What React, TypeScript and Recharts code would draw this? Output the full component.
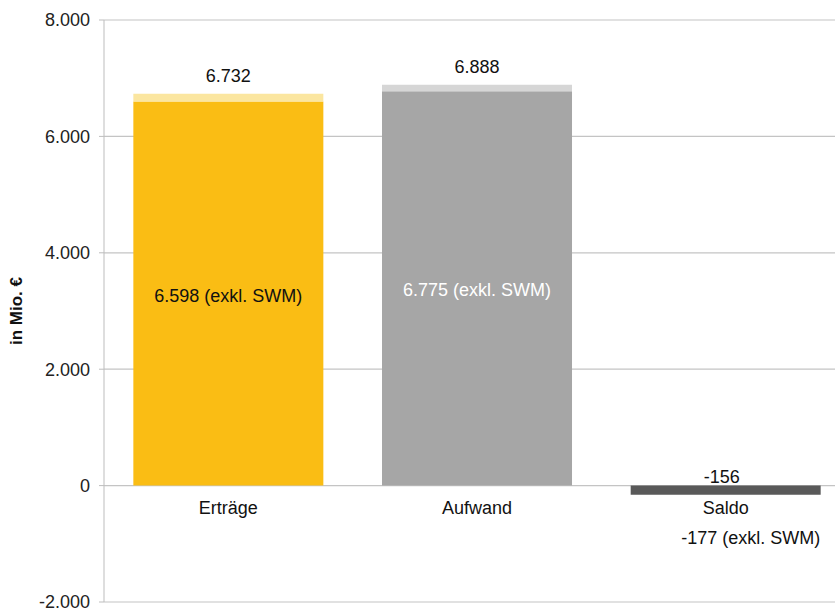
import { Bar, BarChart, CartesianGrid, Cell, LabelList, YAxis, XAxis } from "recharts";

const categories = ["Erträge", "Aufwand", "Saldo"];
// bar parts: value without SWM, plus the SWM share on top
const baseValues = [6598, 6775, -156];
const swmValues = [134, 113, 0];
const totalLabels = [6732, 6888, -156];
const exklLabels = [6598, 6775, -177];
const yTicks = [-2000, 0, 2000, 4000, 6000, 8000];

const baseColors = ["#FABD14", "#A6A6A6", "#595959"];
const swmColors = ["#FBE6A0", "#D6D6D6", "#595959"];
const innerTextColors = ["#111111", "#ffffff", "#111111"];

const data = categories.map((name, i) => ({
  name,
  base: baseValues[i],
  swm: swmValues[i],
  total: totalLabels[i],
  exkl: exklLabels[i],
}));

const FONT = "'Liberation Sans', Arial, sans-serif";

const fmt = (v: number) => {
  const s = Math.abs(v).toString().replace(/\B(?=(\d{3})+(?!\d))/g, ".");
  return v < 0 ? "-" + s : s;
};

function BaseLabel(props: any) {
  const { x, y, width, height, index } = props;
  const d = data[index];
  const top = Math.min(y, y + height);
  const bottom = Math.max(y, y + height);
  const cx = x + width / 2;
  const zeroY = d.base >= 0 ? bottom : top;
  const common = { fontFamily: FONT, fontSize: 18, textAnchor: "middle" as const, dominantBaseline: "central" as const };
  if (d.base >= 0) {
    return (
      <g>
        <text x={cx} y={(top + bottom) / 2 + 2} fill={innerTextColors[index]} {...common}>
          {fmt(d.exkl)} (exkl. SWM)
        </text>
        <text x={cx} y={zeroY + 22} fill="#111" {...common}>
          {d.name}
        </text>
      </g>
    );
  }
  return (
    <g>
      <text x={cx - 4} y={zeroY - 9} fill="#111" {...common}>
        {fmt(d.total)}
      </text>
      <text x={cx} y={zeroY + 22} fill="#111" {...common}>
        {d.name}
      </text>
      <text x={cx + 25} y={zeroY + 52} fill="#111" {...common}>
        {fmt(d.exkl)} (exkl. SWM)
      </text>
    </g>
  );
}

function TopLabel(props: any) {
  const { x, y, width, height, index } = props;
  const d = data[index];
  if (!(d.swm > 0)) return null;
  const top = Math.min(y, y + height);
  return (
    <text
      x={x + width / 2}
      y={top - 18}
      fill="#111"
      fontFamily={FONT}
      fontSize={18}
      textAnchor="middle"
      dominantBaseline="central"
    >
      {fmt(d.total)}
    </text>
  );
}

export default function App() {
  return (
    <div style={{ width: 835, height: 609, overflow: "hidden", background: "#fff" }}>
      <style>{`body{margin:0;}`}</style>
      <BarChart
        width={860}
        height={609}
        data={data}
        margin={{ top: 20, right: 10, bottom: 7, left: 0 }}
        barCategoryGap="11.8%"
      >
        <CartesianGrid vertical={false} stroke="#C4C4C4" strokeWidth={1.2} />
        <XAxis dataKey="name" hide />
        <YAxis
          width={104}
          domain={[-2000, 8000]}
          ticks={yTicks}
          interval={0}
          tickFormatter={fmt}
          stroke="#BDBDBD"
          tickSize={5}
          tickMargin={9}
          tick={{ fill: "#222", fontSize: 18, fontFamily: FONT }}
          label={{
            value: "in Mio. €",
            angle: -90,
            position: "insideLeft",
            offset: 16,
            style: { fontFamily: FONT, fontSize: 17, fontWeight: "bold", fill: "#111", textAnchor: "middle" },
          }}
        />
        <Bar dataKey="base" stackId="a" isAnimationActive={false}>
          {data.map((_, i) => (
            <Cell key={i} fill={baseColors[i]} />
          ))}
          <LabelList dataKey="base" content={BaseLabel} />
        </Bar>
        <Bar dataKey="swm" stackId="a" isAnimationActive={false}>
          {data.map((_, i) => (
            <Cell key={i} fill={swmColors[i]} />
          ))}
          <LabelList dataKey="swm" content={TopLabel} />
        </Bar>
      </BarChart>
    </div>
  );
}
